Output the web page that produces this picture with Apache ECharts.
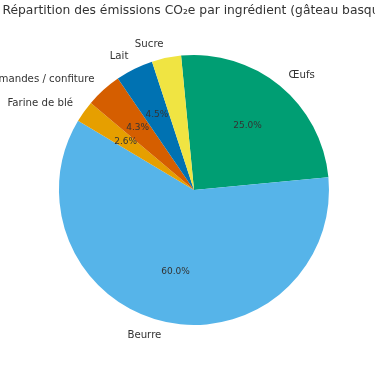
<!DOCTYPE html>
<html>
<head>
<meta charset="utf-8">
<script src="https://cdn.jsdelivr.net/npm/echarts@6/dist/echarts.min.js"></script>
<style>
html,body{margin:0;padding:0;background:#fff;}
#chart{width:375px;height:366px;}
</style>
</head>
<body>
<div id="chart"></div>
<script>
const titleText = 'Répartition des émissions CO₂e par ingrédient (gâteau basque)';
const categories = ['Œufs', 'Beurre', 'Farine de blé', 'Amandes / confiture', 'Lait', 'Sucre'];
const values = [25.0, 60.0, 2.6, 4.3, 4.5, 3.5];
const colors = ['#009E73', '#56B4E9', '#E69F00', '#D55E00', '#0072B2', '#F0E442'];

const R = 135;
const center = [194, 190];
const startAngle = 95.5;
const font = 'DejaVu Sans';

const data = categories.map((c, i) => ({ name: c, value: values[i], itemStyle: { color: colors[i] } }));

const chart = echarts.init(document.getElementById('chart'), null, { renderer: 'canvas' });
chart.setOption({
  backgroundColor: '#ffffff',
  animation: false,
  title: {
    text: titleText,
    left: 2.5,
    top: 5,
    padding: 0,
    textStyle: { fontFamily: font, fontSize: 12.3, fontWeight: 'normal', color: '#333333' }
  },
  series: [
    {
      type: 'pie',
      center: center,
      radius: [0, R],
      startAngle: startAngle,
      clockwise: true,
      avoidLabelOverlap: false,
      silent: true,
      data: data,
      itemStyle: { borderWidth: 0 },
      label: {
        show: true,
        position: 'outside',
        formatter: '{b}',
        fontFamily: font,
        fontSize: 10.2,
        color: '#333333',
        padding: [4, 0, 0, 0],
        distanceToLabelLine: 0
      },
      labelLine: { show: false, length: R * 0.1, length2: 0 }
    },
    {
      type: 'pie',
      center: center,
      radius: [0, R * 1.2],
      startAngle: startAngle,
      clockwise: true,
      avoidLabelOverlap: false,
      silent: true,
      z: 5,
      data: categories.map((c, i) => ({ name: c, value: values[i] })),
      itemStyle: { color: 'rgba(0,0,0,0)', borderWidth: 0 },
      label: {
        show: true,
        position: 'inside',
        formatter: p => p.value.toFixed(1) + '%',
        fontFamily: font,
        fontSize: 9,
        color: '#333333'
      },
      labelLine: { show: false }
    }
  ]
});
</script>
</body>
</html>
